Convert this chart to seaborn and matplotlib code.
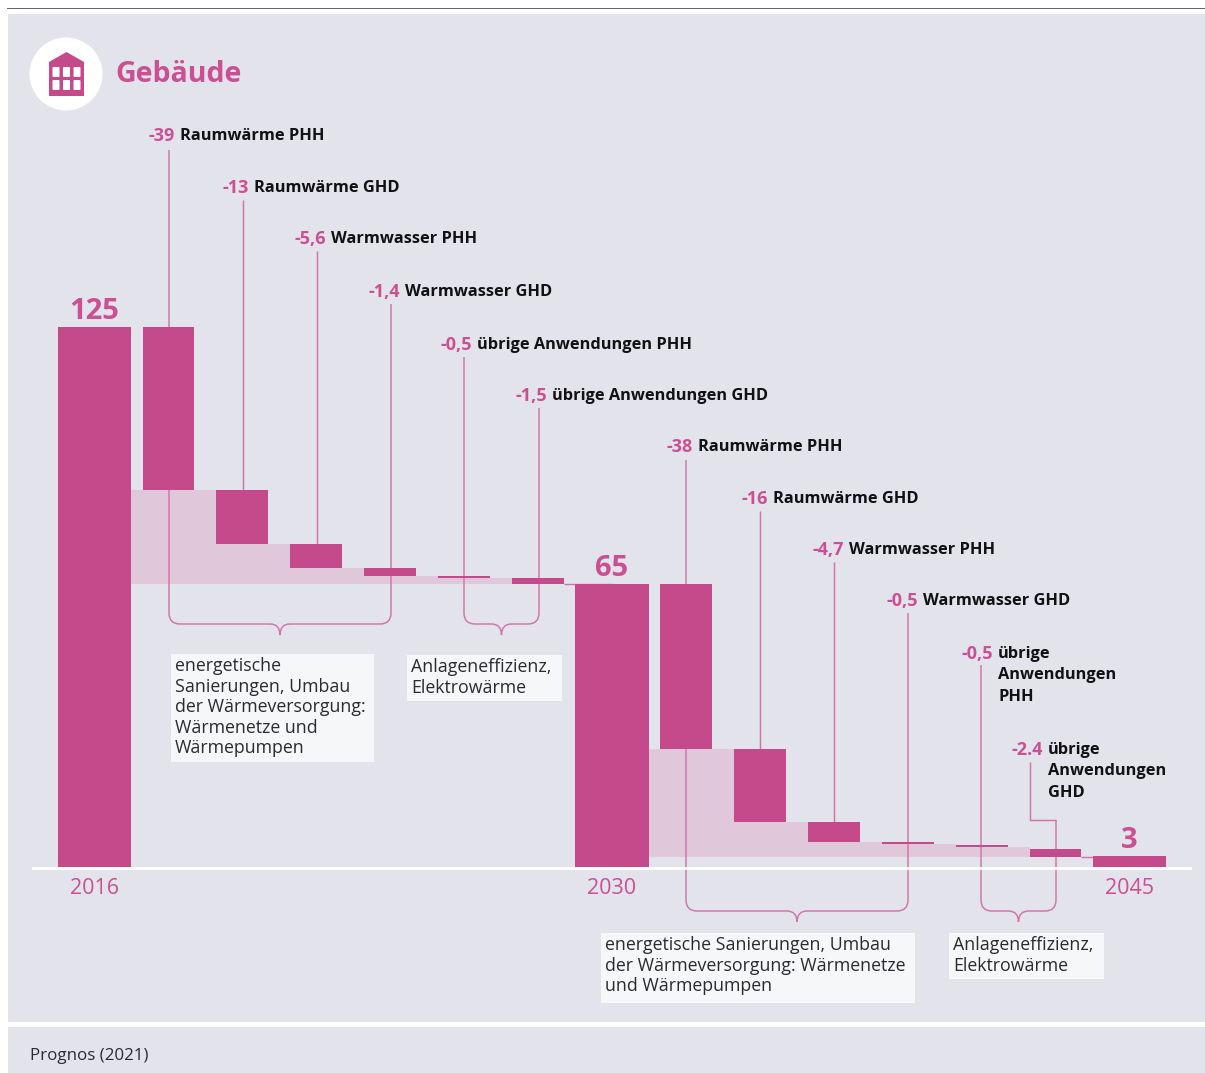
import matplotlib
matplotlib.use("Agg")
import matplotlib.pyplot as plt
from matplotlib.patches import Circle, FancyBboxPatch, PathPatch, Polygon, Rectangle
from matplotlib.path import Path
from matplotlib.transforms import Affine2D
import pandas as pd
import seaborn as sns

# data
steps = ['2016', 'RW PHH 1', 'RW GHD 1', 'WW PHH 1', 'WW GHD 1', 'Ub PHH 1', 'Ub GHD 1',
         '2030', 'RW PHH 2', 'RW GHD 2', 'WW PHH 2', 'WW GHD 2', 'Ub PHH 2', 'Ub GHD 2', '2045']
total_steps = ['2016', '2030', '2045']
total_values = [125, 65.5, 2.5]
total_labels = ['125', '65', '3']
delta_steps = ['RW PHH 1', 'RW GHD 1', 'WW PHH 1', 'WW GHD 1', 'Ub PHH 1', 'Ub GHD 1',
               'RW PHH 2', 'RW GHD 2', 'WW PHH 2', 'WW GHD 2', 'Ub PHH 2', 'Ub GHD 2']
delta_tops = [125, 87.3, 74.8, 69.2, 67.4, 66.9, 65.5, 27.3, 10.4, 5.8, 5.1, 4.2]
delta_bottoms = [87.3, 74.8, 69.2, 67.4, 66.9, 65.5, 27.3, 10.4, 5.8, 5.3, 4.6, 2.3]

delta_numbers = ['-39', '-13', '-5,6', '-1,4', '-0,5', '-1,5',
                 '-38', '-16', '-4,7', '-0,5', '-0,5', '-2.4']
delta_names = ['Raumwärme PHH', 'Raumwärme GHD', 'Warmwasser PHH', 'Warmwasser GHD',
               'übrige Anwendungen PHH', 'übrige Anwendungen GHD',
               'Raumwärme PHH', 'Raumwärme GHD', 'Warmwasser PHH', 'Warmwasser GHD',
               'übrige\nAnwendungen\nPHH', 'übrige\nAnwendungen\nGHD']

BAR = '#c44a8c'
BAND = '#e0c8da'
PINK = '#cc4f94'
LINE = '#d073a9'
PANEL = '#e2e3eb'
BOX = '#f6f7f9'
DARK = '#2a2a30'
FONT = 'Open Sans'

sns.set_theme(style='white')
plt.rcParams['font.family'] = [FONT, 'DejaVu Sans']

W, H = 1205, 1073
fig = plt.figure(figsize=(W / 100, H / 100), dpi=100, facecolor='white')
# pixel coordinates of the reference, y pointing down
tr = Affine2D().scale(1, -1).translate(0, H)

ax = fig.add_axes([33 / W, (H - 867) / H, (1190 - 33) / W, 561.6 / H])
ax.patch.set_alpha(0)

df_total = pd.DataFrame({'step': total_steps, 'value': total_values})
df_delta = pd.DataFrame({'step': delta_steps,
                         'value': [t - b for t, b in zip(delta_tops, delta_bottoms)]})

sns.barplot(data=df_total, x='step', y='value', order=steps, color=BAR, saturation=1,
            width=0.99, errorbar=None, linewidth=0, ax=ax, zorder=2)
sns.barplot(data=df_delta, x='step', y='value', order=steps, color=BAR, saturation=1,
            width=0.70, errorbar=None, linewidth=0, bottom=delta_bottoms, ax=ax, zorder=2)

ax.bar_label(ax.containers[0], labels=total_labels, padding=1, color=PINK,
             fontsize=21, fontweight='bold')

# pale steps behind the falling bars
for first, last, base in [(0, 6, total_values[1]), (6, 12, delta_bottoms[-1])]:
    pos = steps.index(delta_steps[first]) - 1
    edges = [pos + 0.495] + [pos + i + 1 - 0.35 for i in range(1, last - first)] + [pos + last - first + 0.35]
    levels = delta_bottoms[first:last] + [delta_bottoms[last - 1]]
    ax.fill_between(edges, base, levels, step='post', color=BAND, lw=0, zorder=0.5)
    # small connector to the next total
    ax.hlines(base, pos + last - first + 0.35, pos + last - first + 1, color=LINE, lw=1, zorder=1)

ax.spines['bottom'].set_position(('outward', 1))
ax.spines['bottom'].set_color('white')
ax.spines['bottom'].set_linewidth(2)
ax.set_xlim((33 - 94.5) / 73.93, (1190 - 94.5) / 73.93)
ax.set_ylim(0, 130)
ax.set_xticks([steps.index(s) for s in total_steps], total_steps, color=PINK, fontsize=15.5)
ax.set_yticks([])
ax.set_xlabel('')
ax.set_ylabel('')
ax.tick_params(axis='x', length=0, pad=7)
sns.despine(ax=ax, left=True)

# background panels
for x0, y0, x1, y1, c in [(8, 14, W, 1022, PANEL), (8, 1027, W, H, PANEL), (7, 7.5, W, 9, '#5f666e')]:
    fig.add_artist(Rectangle((x0, y0), x1 - x0, y1 - y0, transform=tr, facecolor=c, lw=0, zorder=-5))

# icon
fig.add_artist(Circle((66, 74), 36.5, transform=tr, facecolor='white', lw=0, zorder=3))
fig.add_artist(Polygon([(49, 62), (66.5, 52), (84, 62), (84, 96), (49, 96)], transform=tr,
                       facecolor=BAR, lw=0, zorder=4))
for wy in (67, 80):
    for wx in (52.5, 63, 73.5):
        fig.add_artist(FancyBboxPatch((wx + 1, wy + 1), 5, 8, boxstyle='round,pad=1', transform=tr,
                                      facecolor='white', lw=0, zorder=5))
fig.text(115, 75, 'Gebäude', transform=tr, color=PINK, fontsize=20.5, fontweight='bold', va='center')

# number + name above each bar: right edge of number, centre y of first line
label_x = [175, 249, 326, 400, 472, 547, 693, 768, 844, 918, 993, 1043]
label_y = [136, 188, 239, 292, 345, 396, 447, 499, 550, 601, 654, 750]
for x, y, num, name in zip(label_x, label_y, delta_numbers, delta_names):
    fig.text(x, y, num, transform=tr, color=PINK, fontsize=13, fontweight='bold', ha='right', va='center')
    for k, part in enumerate(name.split('\n')):
        fig.text(x + 5, y + k * 21.3, part, transform=tr, color='#111114', fontsize=11.8,
                 fontweight='bold', ha='left', va='center')


def add_line(verts, codes=None):
    ax.add_patch(PathPatch(Path(verts, codes), transform=tr, fill=False, edgecolor=LINE, lw=1.05,
                           clip_on=False, zorder=1))


# leaders without a bracket
for x, y0, y1 in [(243, 200, 490), (317, 251, 544), (760, 511, 749), (834, 562, 822)]:
    add_line([(x, y0), (x, y1)])


def bracket(x0, x1, y0a, y0b, y):
    r = 11
    mid = (x0 + x1) / 2
    M, L, C = Path.MOVETO, Path.LINETO, Path.CURVE3
    verts = [(x0, y0a), (x0, y - r), (x0, y), (x0 + r, y), (mid - 10, y), (mid, y), (mid, y + 11),
             (mid, y), (mid + 10, y), (x1 - r, y), (x1, y), (x1, y - r), (x1, y0b)]
    codes = [M, L, C, C, L, C, C, C, C, L, C, C, L]
    add_line(verts, codes)


bracket(169, 391, 150, 304, 624)
bracket(464, 539, 357, 408, 624)
bracket(686, 908, 460, 613, 911)
bracket(981, 1056, 665, 820, 911)
add_line([(1030, 762), (1030, 820), (1056, 820)])

# comment boxes
box_rects = [(171, 654, 374, 762), (407, 655, 562, 701), (601, 933, 915, 1003), (949, 933, 1104, 979)]
box_lines = [['energetische', 'Sanierungen, Umbau', 'der Wärmeversorgung:', 'Wärmenetze und', 'Wärmepumpen'],
             ['Anlageneffizienz,', 'Elektrowärme'],
             ['energetische Sanierungen, Umbau', 'der Wärmeversorgung: Wärmenetze', 'und Wärmepumpen'],
             ['Anlageneffizienz,', 'Elektrowärme']]
for (x0, y0, x1, y1), lines in zip(box_rects, box_lines):
    fig.add_artist(Rectangle((x0, y0), x1 - x0, y1 - y0, transform=tr, facecolor=BOX, lw=0, zorder=3))
    for k, line in enumerate(lines):
        fig.text(x0 + 4, y0 + 12 + k * 20.6, line, transform=tr, color=DARK, fontsize=12.75,
                 ha='left', va='center', zorder=4)

fig.text(30, 1056, 'Prognos (2021)', transform=tr, color=DARK, fontsize=12.2, va='center')

fig.savefig('out.png', dpi=100)
